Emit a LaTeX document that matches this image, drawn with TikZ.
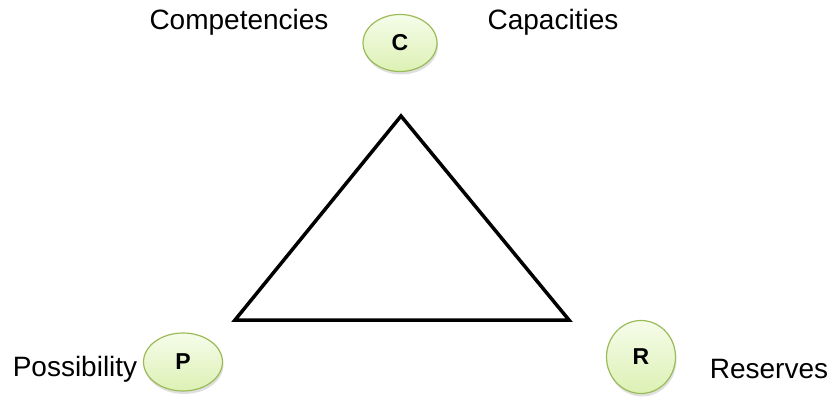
\documentclass[tikz,border=0pt]{standalone}
\usepackage{fontspec}
\setmainfont{Liberation Sans}
\usetikzlibrary{shapes.geometric,shadows}
\definecolor{bubbleedge}{HTML}{9BBB59}
\definecolor{bubbletop}{HTML}{F6FCEA}
\definecolor{bubblebot}{HTML}{DCF1B4}
\tikzset{
    bubble/.style={ellipse, draw=bubbleedge, line width=1.2pt,
        top color=bubbletop, bottom color=bubblebot,
        drop shadow={shadow xshift=1pt, shadow yshift=-3pt, opacity=0.25},
        font=\fontsize{23}{23}\selectfont\bfseries, inner sep=0pt},
    label_text/.style={font=\fontsize{28}{28}\selectfont},
}
\begin{document}
\begin{tikzpicture}[x=1pt, y=-1pt]
    \useasboundingbox (0,0) rectangle (834,398);
    % Triangle
    \coordinate (top)   at (401,116);
    \coordinate (left)  at (235,320);
    \coordinate (right) at (569,320);
    \draw[line width=3.5pt, line join=miter] (top) -- (left) -- (right) -- cycle;

    % Bubbles
    \node[bubble, minimum width=74pt, minimum height=57pt] (c) at (400,43)  {C};
    \node[bubble, minimum width=79pt, minimum height=58pt] (p) at (183,362) {P};
    \node[bubble, minimum width=69pt, minimum height=73pt] (r) at (641,357) {R};

    % Labels
    \node[label_text] (comp) at (239,22)  {Competencies};
    \node[label_text] (capa) at (553,22)  {Capacities};
    \node[label_text] (poss) at (75,369)  {Possibility};
    \node[label_text] (resv) at (769,369) {Reserves};
\end{tikzpicture}
\end{document}
